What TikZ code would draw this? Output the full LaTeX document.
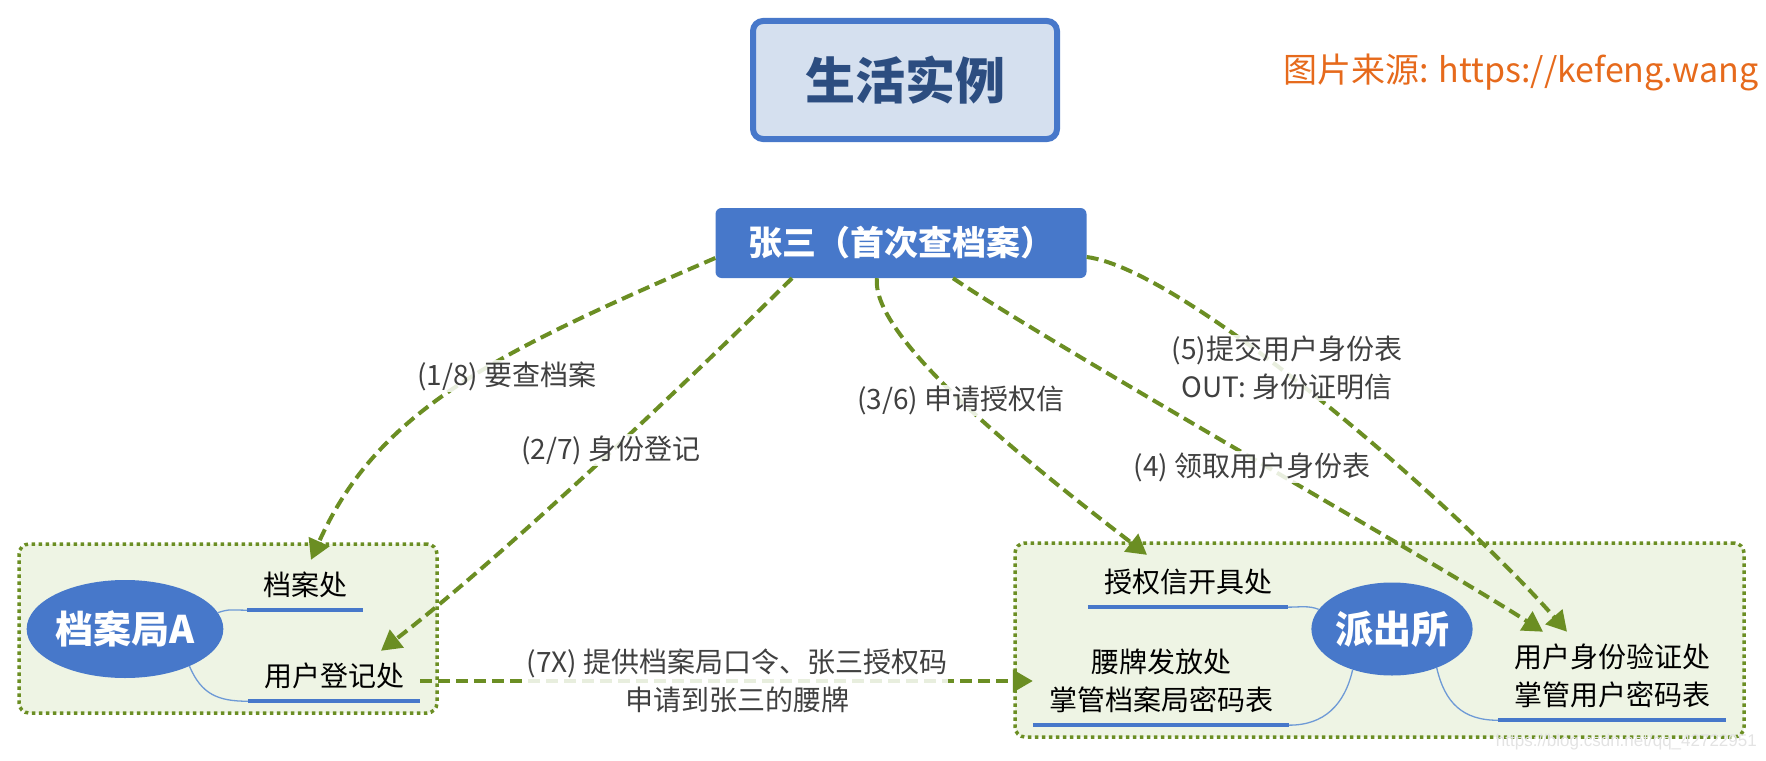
\documentclass[tikz,border=0pt]{standalone}
\usepackage{fontspec}
\setmainfont{Noto Sans CJK SC}
\newfontfamily\wmfont{Liberation Sans}
\usepackage{xcolor}
\usetikzlibrary{arrows.meta,shapes.geometric}
\definecolor{ttlfill}{HTML}{D5E0EF}
\definecolor{nodeblue}{HTML}{4778CA}
\definecolor{ttltext}{HTML}{2C4D80}
\definecolor{grpfill}{HTML}{EEF4E4}
\definecolor{olive}{HTML}{6B8E23}
\definecolor{twigblue}{HTML}{6E9AD6}
\definecolor{labgray}{HTML}{404040}
\definecolor{srcorange}{HTML}{E66A1C}

\begin{document}
\begin{tikzpicture}[x=1pt, y=-1pt,
  ttl/.style={draw=nodeblue, line width=6pt, rounded corners=10pt, fill=ttlfill, text=ttltext,
              font=\fontsize{50}{60}\selectfont\bfseries, minimum width=304pt, minimum height=118pt},
  hub/.style={fill=nodeblue, text=white, rounded corners=6pt, font=\fontsize{34}{40}\selectfont\bfseries,
              minimum width=371pt, minimum height=70pt},
  grp/.style={draw=olive, fill=grpfill, line width=3.5pt, dash pattern=on 3.5pt off 3.5pt, rounded corners=10pt},
  org/.style={ellipse, fill=nodeblue, text=white, inner sep=0pt, font=\fontsize{38}{44}\selectfont\bfseries},
  branch/.style={align=center, inner xsep=16pt, inner ysep=12pt, font=\fontsize{28}{38}\selectfont},
  uline/.style={draw=nodeblue, line width=4pt},
  twig/.style={draw=twigblue, line width=1.3pt},
  arr/.style={draw=olive, line width=4pt, dash pattern=on 12pt off 6pt, -{Triangle[length=20pt,width=22pt]}},
  lab/.style={align=center, text=labgray, fill=white, fill opacity=0.85, text opacity=1, inner sep=1pt,
              font=\fontsize{28}{38}\selectfont}]
  \useasboundingbox (0,0) rectangle (1766,760);
  \node[ttl] (title) at (905,80) {生活实例};
  \node[anchor=base west, inner sep=0pt, text=srcorange, font=\fontsize{34}{40}\selectfont] (src) at (1283,82) {图片来源: https://kefeng.wang};
  \node[hub] (zs) at (901,243) {张三（首次查档案）};
  \node[grp, minimum width=418pt, minimum height=169pt] (grpA) at (228,628.5) {};
  \node[grp, minimum width=729pt, minimum height=194pt] (grpP) at (1379.5,640) {};
  \node[org, minimum width=189pt, minimum height=98pt] (daj) at (125,629) {档案局A};
  \node[org, minimum width=157pt, minimum height=93pt] (pcs) at (1392,629) {派出所};
  \node[branch] (dak)  at (305,585)  {档案处};
  \node[branch] (ureg) at (334,676)  {用户登记处};
  \node[branch] (sqx)  at (1188,582) {授权信开具处};
  \node[branch] (ypf)  at (1161,681) {腰牌发放处\\掌管档案局密码表};
  \node[branch] (yzc)  at (1612,676) {用户身份验证处\\掌管用户密码表};
  \foreach \b in {dak,ureg,sqx,ypf,yzc} {\draw[uline] (\b.south west) -- (\b.south east);}
  \draw[twig] (daj.10) .. controls +(12,-4) and +(-15,0) .. (dak.south west);
  \draw[twig] (daj.-30) .. controls +(12,28) and +(-30,0) .. (ureg.south west);
  \draw[twig] (pcs.165) .. controls +(-10,-4) and +(12,0) .. (sqx.south east);
  \draw[twig] (pcs.-134) .. controls +(-8,35) and +(35,0) .. (ypf.south east);
  \draw[twig] (pcs.-41) .. controls +(8,35) and +(-35,0) .. (yzc.south west);
  \draw[arr] ([yshift=-15pt]zs.west) .. controls +(-220,95) and +(67,-150) .. ([xshift=6pt]dak.north);
  \draw[arr] ([xshift=-109pt]zs.south) .. controls +(-112,111) and +(119,-92) .. ([xshift=47pt]ureg.north);
  \draw[arr] ([xshift=-24pt]zs.south) .. controls +(-7,61) and +(-110,-85) .. ([xshift=-41pt,yshift=2pt]sqx.north);
  \draw[arr] ([xshift=52pt]zs.south) .. controls +(97,66) and +(-103,-67) .. ([xshift=-69pt]yzc.north);
  \draw[arr] ([yshift=-14pt]zs.east) .. controls +(100,13) and +(-107,-122) .. ([xshift=-45pt]yzc.north);
  \draw[arr] (ypf.west -| ureg.east) -- (ypf.west);
  \node[lab] (l18) at (507,376)  {(1/8) 要查档案};
  \node[lab] (l27) at (611,450)  {(2/7) 身份登记};
  \node[lab] (l36) at (961,400)  {(3/6) 申请授权信};
  \node[lab] (l4)  at (1252,467) {(4) 领取用户身份表};
  \node[lab] (l5)  at (1287,368) {(5)提交用户身份表\\OUT: 身份证明信};
  \node[lab] (l7x) at (737,681)  {(7X) 提供档案局口令、张三授权码\\申请到张三的腰牌};
  \node[anchor=east, inner sep=0pt, text=gray!22, font=\wmfont\fontsize{17}{20}\selectfont] (wm) at (1757,742) {https://blog.csdn.net/qq\_42722951};
\end{tikzpicture}
\end{document}
